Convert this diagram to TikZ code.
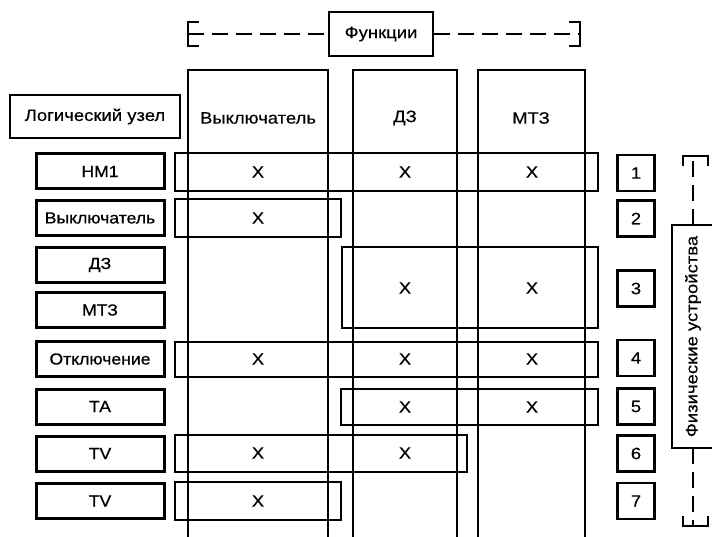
\documentclass[tikz,border=0pt]{standalone}
\usepackage{fontspec}
\setmainfont{Liberation Sans}[FakeStretch=1.12,FakeBold=0.3]
\newfontfamily\lblfont{Liberation Sans}[FakeStretch=1.1,FakeBold=0.7]
\begin{document}
\begin{tikzpicture}[x=1pt,y=-1pt,
  lw/.style={line width=2.3pt},
  col/.style={draw, lw},
  bar/.style={draw, lw, inner sep=0pt},
  lnode/.style={draw, line width=3pt, inner sep=0pt, minimum width=128pt, minimum height=35pt, font=\lblfont\fontsize{16}{18}\selectfont},
  numbox/.style={draw, lw, inner sep=0pt, minimum width=37pt, minimum height=36pt, font=\fontsize{16.5}{18}\selectfont},
  hdr/.style={font=\fontsize{16.5}{18}\selectfont},
  xm/.style={font=\fontsize{16.5}{18}\selectfont},
  dsh/.style={lw, dash pattern=on 16pt off 8pt}]
\useasboundingbox (0,0) rectangle (712,537);
\fill[white] (0,0) rectangle (712,537);

% top bracket "Функции"
\node[draw, lw, minimum width=104pt, minimum height=44pt, inner sep=0pt, hdr] (fun) at (381,34) {Функции};
\coordinate (bl) at (188,34);
\coordinate (br) at (580,34);
\draw[dsh] (bl) -- (fun.west);
\draw[dsh] (fun.east) -- (br);
\draw[lw] ([xshift=11pt,yshift=-12pt]bl) -- ([yshift=-12pt]bl) -- ([yshift=12pt]bl) -- ([xshift=11pt,yshift=12pt]bl);
\draw[lw] ([xshift=-11pt,yshift=-12pt]br) -- ([yshift=-12pt]br) -- ([yshift=12pt]br) -- ([xshift=-11pt,yshift=12pt]br);

% columns (open at bottom)
\draw[col] (188,540) -- (188,70) -- (328,70) -- (328,540);
\draw[col] (353,540) -- (353,70) -- (457,70) -- (457,540);
\draw[col] (478,540) -- (478,70) -- (585,70) -- (585,540);
\node[hdr] (h1) at (258,118) {Выключатель};
\node[hdr] (h2) at (405,118) {ДЗ};
\node[hdr] (h3) at (531,118) {МТЗ};

% logical node header
\node[draw, lw, minimum width=170pt, minimum height=43pt, inner sep=0pt, hdr] (ln) at (95,116.5) {Логический узел};

% left logical nodes
\node[lnode] (n1) at (100,171.5) {НМ1};
\node[lnode] (n2) at (100,218) {Выключатель};
\node[lnode] (n3) at (100,265) {ДЗ};
\node[lnode] (n4) at (100,310) {МТЗ};
\node[lnode] (n5) at (100,359) {Отключение};
\node[lnode] (n6) at (100,406.5) {ТА};
\node[lnode] (n7) at (100,453.5) {TV};
\node[lnode] (n8) at (100,501) {TV};

% row bars
\draw[bar] (175,153) rectangle (598,191);
\draw[bar] (175,199) rectangle (341,237);
\draw[bar] (342,247) rectangle (598,328);
\draw[bar] (175,342) rectangle (598,377);
\draw[bar] (341,389) rectangle (598,425);
\draw[bar] (175,435) rectangle (467,472);
\draw[bar] (175,482) rectangle (341,520);

% X marks
\node[xm] (x11) at (258,172) {X};
\node[xm] (x12) at (405,172) {X};
\node[xm] (x13) at (532,172) {X};
\node[xm] (x21) at (258,218) {X};
\node[xm] (x32) at (405,288) {X};
\node[xm] (x33) at (532,288) {X};
\node[xm] (x41) at (258,359) {X};
\node[xm] (x42) at (405,359) {X};
\node[xm] (x43) at (532,359) {X};
\node[xm] (x52) at (405,407) {X};
\node[xm] (x53) at (532,407) {X};
\node[xm] (x61) at (258,453) {X};
\node[xm] (x62) at (405,453) {X};
\node[xm] (x71) at (258,501) {X};

% number boxes
\node[numbox] (d1) at (636,173) {1};
\node[numbox] (d2) at (636,218.5) {2};
\node[numbox] (d3) at (636,288.5) {3};
\node[numbox] (d4) at (636,358) {4};
\node[numbox] (d5) at (636,406.5) {5};
\node[numbox] (d6) at (636,453.5) {6};
\node[numbox] (d7) at (636,501) {7};

% physical devices
\draw[lw] (714,225) -- (672,225) -- (672,448) -- (714,448);
\node[hdr, rotate=90] (pd) at (693,336.5) {Физические устройства};
\coordinate (tt) at (693,156);
\coordinate (tb) at (693,526);
\draw[dsh] (693,225) -- (tt);
\draw[dsh] (693,448) -- (tb);
\draw[lw] (683,166) -- (683,156) -- (708,156) -- (708,166);
\draw[lw] (683,516) -- (683,526) -- (708,526) -- (708,516);
\end{tikzpicture}
\end{document}
